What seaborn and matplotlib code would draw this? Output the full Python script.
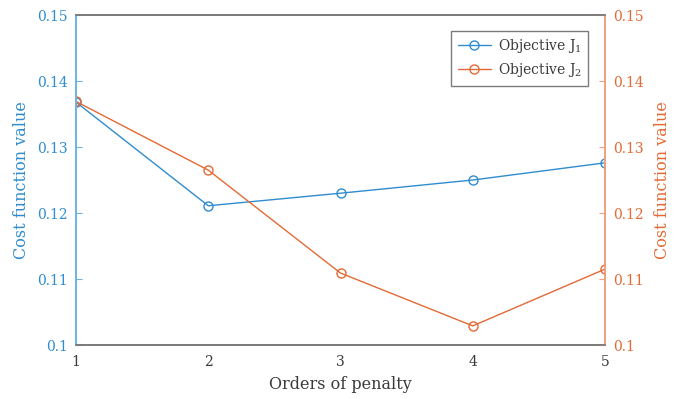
import matplotlib
matplotlib.use("Agg")
import matplotlib.pyplot as plt
import pandas as pd
import seaborn as sns

orders = [1, 2, 3, 4, 5]
j1_values = [0.1368, 0.1211, 0.1230, 0.1250, 0.1276]
j2_values = [0.1369, 0.1265, 0.1109, 0.1029, 0.1115]

BLUE = "#2f8ccf"
ORANGE = "#e36a35"
BLUE_SPINE = "#6cb2e3"
ORANGE_SPINE = "#eea07d"
GRAY = "#7a7a7a"
TEXT = "#3a3a3a"

sns.set_style("white")
plt.rcParams["font.family"] = ["DejaVu Serif"]
plt.rcParams["mathtext.fontset"] = "dejavuserif"

df1 = pd.DataFrame({"order": orders, "value": j1_values})
df2 = pd.DataFrame({"order": orders, "value": j2_values})

fig = plt.figure(figsize=(6.94, 3.99), dpi=100)
ax = fig.add_axes([0.1095, 0.1353, 0.7623, 0.8271])
ax2 = ax.twinx()

sns.lineplot(data=df1, x="order", y="value", ax=ax, color=BLUE, lw=1.0,
             marker="o", markersize=6.5, markerfacecolor="none",
             markeredgecolor=BLUE, markeredgewidth=1.0, label="Objective J$_1$", legend=False)
sns.lineplot(data=df2, x="order", y="value", ax=ax2, color=ORANGE, lw=1.0,
             marker="o", markersize=6.5, markerfacecolor="none",
             markeredgecolor=ORANGE, markeredgewidth=1.0, label="Objective J$_2$", legend=False)

for a in (ax, ax2):
    a.set_xlim(1, 5)
    a.set_ylim(0.1, 0.15)
    a.set_yticks([0.1, 0.11, 0.12, 0.13, 0.14, 0.15])
    a.set_yticklabels(["0.1", "0.11", "0.12", "0.13", "0.14", "0.15"])

ax.set_xticks(orders)
ax.set_xlabel("Orders of penalty", fontsize=11.5, color=TEXT, labelpad=5)
ax.set_ylabel("Cost function value", fontsize=11.5, color=BLUE, labelpad=5)
ax2.set_ylabel("Cost function value", fontsize=11.5, color=ORANGE, labelpad=7)

ax.tick_params(axis="x", direction="in", length=4, colors=GRAY, labelcolor=TEXT,
               labelsize=10, pad=7)
ax.tick_params(axis="y", direction="in", length=4, colors=BLUE_SPINE, labelcolor=BLUE,
               labelsize=10, pad=6)
ax2.tick_params(axis="y", direction="in", length=4, colors=ORANGE_SPINE, labelcolor=ORANGE,
                labelsize=10, pad=6)

for a in (ax, ax2):
    a.spines["top"].set_color(GRAY)
    a.spines["bottom"].set_color(GRAY)
    a.spines["left"].set_color(BLUE_SPINE)
    a.spines["right"].set_color(ORANGE_SPINE)
    for s in a.spines.values():
        s.set_linewidth(1.2)

h1, l1 = ax.get_legend_handles_labels()
h2, l2 = ax2.get_legend_handles_labels()
leg = ax2.legend(h1 + h2, l1 + l2, loc="upper right", bbox_to_anchor=(0.968, 0.952),
                 fontsize=10, frameon=True, fancybox=False, edgecolor="#5a5a5a",
                 handlelength=2.4, handletextpad=0.5, borderpad=0.45, labelspacing=0.45,
                 borderaxespad=0.0)
leg.get_frame().set_linewidth(1.0)
for t in leg.get_texts():
    t.set_color(TEXT)

fig.savefig("out.png", dpi=100)
